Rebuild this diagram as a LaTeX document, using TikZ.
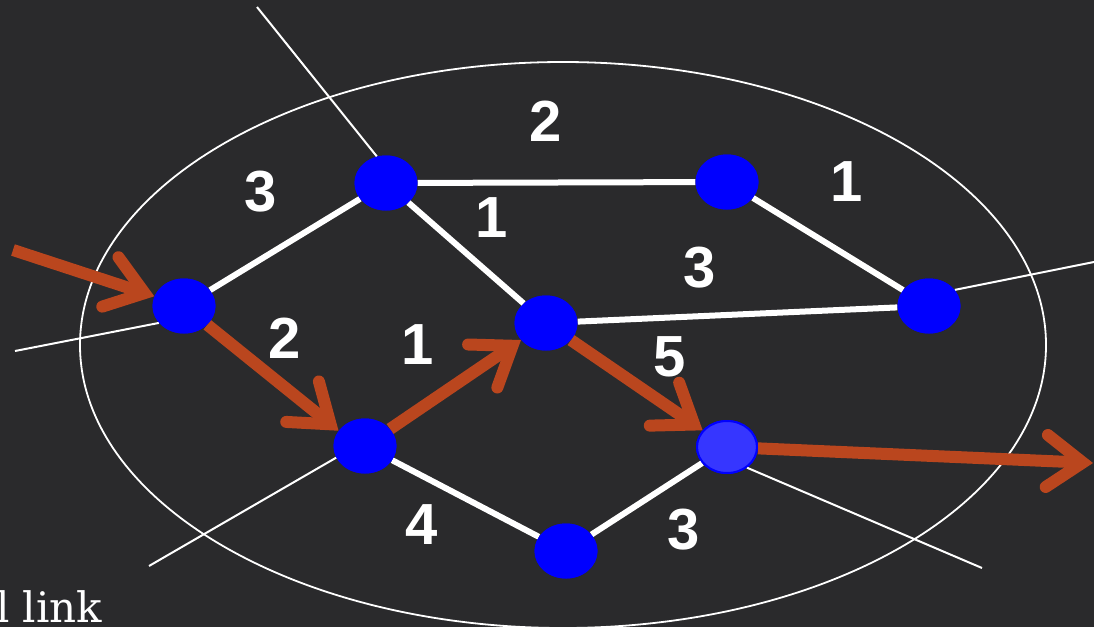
\documentclass[tikz,border=0pt]{standalone}
\usepackage{fontspec}
\setmainfont{Liberation Sans}
\newfontfamily\serifx{DejaVu Serif}
\usetikzlibrary{arrows.meta,shapes.geometric}
\definecolor{bg}{RGB}{42,42,44}
\definecolor{arr}{RGB}{186,70,30}
\definecolor{nodeblue}{RGB}{0,0,255}
\definecolor{lightblue}{RGB}{54,54,255}
\begin{document}
\begin{tikzpicture}[x=1pt,y=-1pt,
  vtx/.style={ellipse, fill=nodeblue, minimum width=63pt, minimum height=55pt, inner sep=0pt},
  hvtx/.style={vtx, fill=lightblue, draw=nodeblue, line width=2pt, minimum width=60pt, minimum height=52pt},
  edge/.style={white, line width=6pt},
  cut/.style={white, line width=2pt},
  flow/.style={arr, line width=12pt, -{Straight Barb[length=36pt,width=52pt,line width=12pt,line cap=round,line join=miter]}},
  lbl/.style={text=white, font=\fontsize{58}{60}\selectfont\bfseries, inner sep=0pt}]
\fill[bg] (0,0) rectangle (1094,627);
\useasboundingbox (0,0) rectangle (1094,627);
\clip (0,0) rectangle (1094,627);

% region boundary
\draw[white, line width=1.8pt] (563,345) ellipse [x radius=483pt, y radius=283pt];

% vertices
\node[vtx] (A) at (184,306) {};
\node[vtx] (B) at (386,183) {};
\node[vtx] (C) at (727,182) {};
\node[vtx] (D) at (929,306) {};
\node[vtx] (E) at (546,323) {};
\node[vtx] (F) at (365,446) {};
\node[vtx] (G) at (566,551) {};
\node[hvtx] (H) at (727,447) {};

% free ends
\coordinate (cB) at (257,7);
\coordinate (cA) at (15,351);
\coordinate (cF) at (149,566);
\coordinate (cH) at (982,568);
\coordinate (cD) at (1094,262);
\coordinate (src) at (13,250);
\coordinate (dst) at (1093,463);

% cut lines
\draw[cut] (B.109) -- (cB);
\draw[cut] (A.214) -- (cA);
\draw[cut] (F.202) -- (cF);
\draw[cut] (H.314) -- (cH);
\draw[cut] (D.32) -- (cD);

% white edges
\draw[edge] (A) -- (B);
\draw[edge] (B) -- (C);
\draw[edge] (C) -- (D);
\draw[edge] (B) -- (E);
\draw[edge] (E) -- (D);
\draw[edge] (F) -- (G);
\draw[edge] (G) -- (H);

% flow arrows
\draw[flow] (src) -- (A);
\draw[flow] (A) -- (F.150);
\draw[flow] (F) -- (E);
\draw[flow] (E) -- (H);
\draw[flow] (H) -- (dst);

% redraw vertices on top
\foreach \p in {{184,306},{386,183},{727,182},{929,306},{546,323},{365,446},{566,551}}
  \node[vtx] at (\p) {};
\node[hvtx] at (727,447) {};

% labels
\node[lbl] (l1) at (261,192) {3};
\node[lbl] (l2) at (546,121) {2};
\node[lbl] (l3) at (847,182) {1};
\node[lbl] (l4) at (492,218) {1};
\node[lbl] (l5) at (700,268) {3};
\node[lbl] (l6) at (285,338) {2};
\node[lbl] (l7) at (418,345) {1};
\node[lbl] (l8) at (670,357) {5};
\node[lbl] (l9) at (422,525) {4};
\node[lbl] (l10) at (684,530) {3};

\node[anchor=base west, text=white, font=\serifx\fontsize{42}{48}\selectfont, inner sep=0pt] (txt) at (-4,622) {l link};
\end{tikzpicture}
\end{document}
